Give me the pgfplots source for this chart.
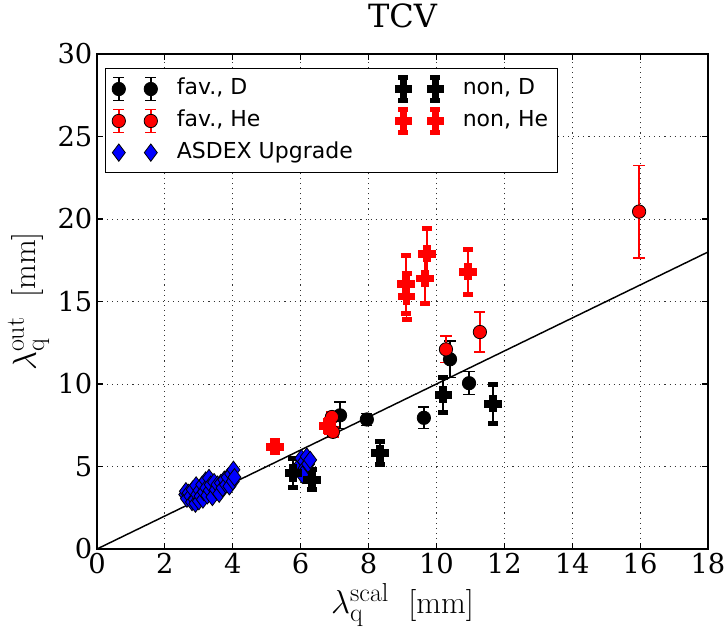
\documentclass[border=0pt]{standalone}
\usepackage{pgfplots}
\pgfplotsset{compat=1.18}
\usepackage{fontspec}
\newfontfamily\dvserif{DejaVu Serif}
\newfontfamily\dvsans{DejaVu Sans}
\newcommand{\scr}[1]{\mbox{\fontsize{19.5}{19.5}\selectfont #1}}

\pgfdeclareplotmark{thickplus}{%
  \pgfpathmoveto{\pgfqpoint{-0.4\pgfplotmarksize}{-\pgfplotmarksize}}%
  \pgfpathlineto{\pgfqpoint{0.4\pgfplotmarksize}{-\pgfplotmarksize}}%
  \pgfpathlineto{\pgfqpoint{0.4\pgfplotmarksize}{-0.4\pgfplotmarksize}}%
  \pgfpathlineto{\pgfqpoint{\pgfplotmarksize}{-0.4\pgfplotmarksize}}%
  \pgfpathlineto{\pgfqpoint{\pgfplotmarksize}{0.4\pgfplotmarksize}}%
  \pgfpathlineto{\pgfqpoint{0.4\pgfplotmarksize}{0.4\pgfplotmarksize}}%
  \pgfpathlineto{\pgfqpoint{0.4\pgfplotmarksize}{\pgfplotmarksize}}%
  \pgfpathlineto{\pgfqpoint{-0.4\pgfplotmarksize}{\pgfplotmarksize}}%
  \pgfpathlineto{\pgfqpoint{-0.4\pgfplotmarksize}{0.4\pgfplotmarksize}}%
  \pgfpathlineto{\pgfqpoint{-\pgfplotmarksize}{0.4\pgfplotmarksize}}%
  \pgfpathlineto{\pgfqpoint{-\pgfplotmarksize}{-0.4\pgfplotmarksize}}%
  \pgfpathlineto{\pgfqpoint{-0.4\pgfplotmarksize}{-0.4\pgfplotmarksize}}%
  \pgfpathclose
  \pgfusepathqfillstroke
}

\pgfplotstableread{
x y e
7.16 8.10 0.80
7.95 7.85 0.35
9.63 7.95 0.65
10.40 11.50 1.10
10.96 10.05 0.70
}\favD

\pgfplotstableread{
x y e
6.92 8.00 0.30
6.95 7.10 0.30
10.28 12.10 0.80
11.28 13.15 1.20
15.97 20.45 2.80
}\favHe

\pgfplotstableread{
x y
2.60 3.30
2.62 3.50
2.65 3.05
2.70 3.40
2.75 3.20
2.80 2.85
2.82 3.60
2.88 3.00
2.90 2.75
2.92 3.85
2.95 3.30
3.00 2.90
3.02 3.55
3.05 3.20
3.10 3.90
3.12 3.00
3.15 3.45
3.20 4.15
3.22 3.70
3.25 3.25
3.30 4.30
3.32 3.55
3.35 3.90
3.40 3.15
3.45 4.05
3.50 3.60
3.55 3.90
3.60 3.35
3.65 4.00
3.70 3.70
3.75 4.20
3.80 3.90
3.85 4.35
3.90 3.80
3.95 4.55
4.00 4.10
4.02 4.80
4.05 4.35
5.98 5.10
6.02 5.50
6.05 4.70
6.10 5.30
6.12 4.90
6.18 5.60
6.22 5.15
6.28 5.40
6.05 4.50
}\aug

\pgfplotstableread{
x y e
5.78 4.60 0.90
6.33 4.20 0.60
8.34 5.80 0.70
10.20 9.35 1.05
11.67 8.80 1.20
}\nonD

\pgfplotstableread{
x y e
5.24 6.20 0.35
6.80 7.45 0.35
9.10 16.05 1.75
9.12 15.30 1.40
9.72 17.90 1.55
9.66 16.40 1.50
10.93 16.80 1.35
}\nonHe

\begin{document}
\begin{tikzpicture}
\begin{axis}[
  scale only axis, width=458.25pt, height=371.25pt,
  xmin=0, xmax=18, ymin=0, ymax=30,
  xtick={0,2,...,18}, ytick={0,5,...,30},
  tick align=inside, tick pos=both,
  major tick length=4.5pt,
  every tick/.style={black, line width=0.8pt},
  axis line style={black, line width=0.8pt},
  grid=major,
  major grid style={black!80, line width=0.7pt, dash pattern=on 0.8pt off 3pt},
  /pgf/number format/assume math mode=true,
  ticklabel style={font=\dvserif\fontsize{20.5}{23}\selectfont},
  title={TCV},
  title style={font=\dvserif\fontsize{24}{28}\selectfont, at={(axis description cs:0.5,1.038)}, anchor=base},
  xlabel={$\lambda_{\scr{q}}^{\scr{scal}}$\ \ [mm]},
  ylabel={$\lambda_{\scr{q}}^{\scr{out}}$\ \ [mm]},
  label style={font=\fontsize{24}{28}\selectfont},
  xlabel style={at={(axis description cs:0.5,-0.13)}, anchor=base},
  ylabel style={at={(axis description cs:-0.1,0.5)}, anchor=base},
  legend columns=2,
  legend cell align=left,
  legend style={at={(axis description cs:0.013,0.972)}, anchor=north west,
    draw=black, line width=0.8pt, fill=white,
    font=\dvsans\fontsize{16.5}{19}\selectfont,
    inner xsep=5pt, inner ysep=5pt,
    nodes={inner sep=2pt, text height=12.5pt, text depth=4pt},
    /tikz/row sep=3pt,
    /tikz/every odd column/.append style={column sep=12.5pt},
    /tikz/every even column/.append style={column sep=30pt}},
]
\addplot[forget plot, only marks, mark=*, mark size=5pt,
  mark options={draw=black, fill=black, line width=0.6pt},
  error bars/.cd, y dir=both, y explicit, error mark=|,
  error bar style={black, line width=1.1pt},
  error mark options={black, line width=1.1pt, mark size=4.2pt}]
  table[x=x, y=y, y error=e] {\favD};
\addplot[forget plot, only marks, mark=*, mark size=5pt,
  mark options={draw=black, fill=red, line width=0.6pt},
  error bars/.cd, y dir=both, y explicit, error mark=|,
  error bar style={red, line width=1.1pt},
  error mark options={red, line width=1.1pt, mark size=4.2pt}]
  table[x=x, y=y, y error=e] {\favHe};
\addplot[forget plot, only marks, mark=diamond*, mark size=6.5pt,
  mark options={draw=black, fill=blue, line width=0.6pt}]
  table[x=x, y=y] {\aug};
\addplot[forget plot, only marks, mark=thickplus, mark size=6pt,
  mark options={draw=black, fill=black, line width=1pt},
  error bars/.cd, y dir=both, y explicit, error mark=|,
  error bar style={black, line width=1.3pt},
  error mark options={black, line width=3.75pt, mark size=3.75pt}]
  table[x=x, y=y, y error=e] {\nonD};
\addplot[forget plot, only marks, mark=thickplus, mark size=6pt,
  mark options={draw=red, fill=red, line width=1pt},
  error bars/.cd, y dir=both, y explicit, error mark=|,
  error bar style={red, line width=1.3pt},
  error mark options={red, line width=3.75pt, mark size=3.75pt}]
  table[x=x, y=y, y error=e] {\nonHe};
\addplot[forget plot, black, line width=1.1pt, no marks] coordinates {(0,0) (18,18)};

\addlegendimage{legend image code/.code={
  \draw[black, line width=1.1pt] (0pt,-8.6pt)--(0pt,8.6pt) (24pt,-8.6pt)--(24pt,8.6pt)
    (-4.2pt,8.6pt)--(4.2pt,8.6pt) (-4.2pt,-8.6pt)--(4.2pt,-8.6pt)
    (19.8pt,8.6pt)--(28.2pt,8.6pt) (19.8pt,-8.6pt)--(28.2pt,-8.6pt);
  \draw[line width=0.6pt] plot[only marks, mark=*, mark size=5pt, mark options={draw=black, fill=black}] coordinates {(0pt,0pt) (24pt,0pt)};
}}
\addlegendentry{fav., D}
\addlegendimage{legend image code/.code={
  \draw[black, line width=1.3pt] (0pt,-8.6pt)--(0pt,8.6pt) (24pt,-8.6pt)--(24pt,8.6pt);
  \draw[black, line width=3.75pt] (-3.75pt,8.6pt)--(3.75pt,8.6pt) (-3.75pt,-8.6pt)--(3.75pt,-8.6pt)
    (20.25pt,8.6pt)--(27.75pt,8.6pt) (20.25pt,-8.6pt)--(27.75pt,-8.6pt);
  \draw[line width=1pt] plot[only marks, mark=thickplus, mark size=6pt, mark options={draw=black, fill=black}] coordinates {(0pt,0pt) (24pt,0pt)};
}}
\addlegendentry{non, D}
\addlegendimage{legend image code/.code={
  \draw[red, line width=1.1pt] (0pt,-8.6pt)--(0pt,8.6pt) (24pt,-8.6pt)--(24pt,8.6pt)
    (-4.2pt,8.6pt)--(4.2pt,8.6pt) (-4.2pt,-8.6pt)--(4.2pt,-8.6pt)
    (19.8pt,8.6pt)--(28.2pt,8.6pt) (19.8pt,-8.6pt)--(28.2pt,-8.6pt);
  \draw[line width=0.6pt] plot[only marks, mark=*, mark size=5pt, mark options={draw=black, fill=red}] coordinates {(0pt,0pt) (24pt,0pt)};
}}
\addlegendentry{fav., He}
\addlegendimage{legend image code/.code={
  \draw[red, line width=1.3pt] (0pt,-8.6pt)--(0pt,8.6pt) (24pt,-8.6pt)--(24pt,8.6pt);
  \draw[red, line width=3.75pt] (-3.75pt,8.6pt)--(3.75pt,8.6pt) (-3.75pt,-8.6pt)--(3.75pt,-8.6pt)
    (20.25pt,8.6pt)--(27.75pt,8.6pt) (20.25pt,-8.6pt)--(27.75pt,-8.6pt);
  \draw[line width=1pt] plot[only marks, mark=thickplus, mark size=6pt, mark options={draw=red, fill=red}] coordinates {(0pt,0pt) (24pt,0pt)};
}}
\addlegendentry{non, He}
\addlegendimage{legend image code/.code={
  \draw[line width=0.6pt] plot[only marks, mark=diamond*, mark size=6.5pt, mark options={draw=black, fill=blue}] coordinates {(0pt,0pt) (24pt,0pt)};
}}
\addlegendentry{ASDEX Upgrade}
\end{axis}
\pgfresetboundingbox
\path ([shift={(-72.75pt,-64.5pt)}]current axis.south west) rectangle ([shift={(15pt,40.5pt)}]current axis.north east);
\end{tikzpicture}
\end{document}
